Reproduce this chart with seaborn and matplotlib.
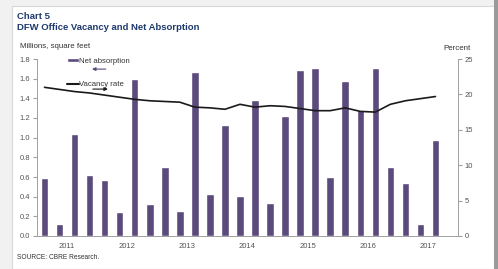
import matplotlib
matplotlib.use("Agg")
import matplotlib.pyplot as plt
from matplotlib.patches import Patch, Rectangle
from matplotlib.lines import Line2D
import pandas as pd
import seaborn as sns

quarters = [f"{y}Q{q}" for y in range(2011, 2018) for q in range(1, 5)][:27]
net_absorption = [0.59, 0.12, 1.04, 0.62, 0.57, 0.24, 1.60, 0.33, 0.70, 0.25,
                  1.67, 0.43, 1.13, 0.41, 1.38, 0.34, 1.22, 1.69, 1.71, 0.60,
                  1.58, 1.28, 1.71, 0.70, 0.54, 0.12, 0.98]
vacancy_rate = [21.0, 20.7, 20.4, 20.2, 19.9, 19.6, 19.3, 19.1, 19.0, 18.9,
                18.2, 18.1, 17.9, 18.6, 18.2, 18.4, 18.3, 18.0, 17.7, 17.7,
                18.1, 17.6, 17.5, 18.6, 19.1, 19.4, 19.7]
years = ["2011", "2012", "2013", "2014", "2015", "2016", "2017"]

df = pd.DataFrame({"quarter": quarters, "absorption": net_absorption,
                   "vacancy": vacancy_rate})
df["pos"] = range(len(df))

sns.set_style("white")
plt.rcParams["font.family"] = ["Liberation Sans", "DejaVu Sans"]

purple = "#5b4a7c"
grey_txt = "#555555"
axis_col = "#a0a0a0"
navy = "#1f3a6e"

fig = plt.figure(figsize=(4.98, 2.69), dpi=100)
fig.patch.set_facecolor("#f1f1f1")
# white panel with light border
fig.add_artist(Rectangle((12 / 498, 0), 482 / 498, 263 / 269, transform=fig.transFigure,
                         facecolor="white", edgecolor="#d8d8d8", lw=0.8, zorder=0))
fig.add_artist(Rectangle((494 / 498, 0), 4 / 498, 1, transform=fig.transFigure,
                         facecolor="#9a9a9a", edgecolor="none", zorder=0))

ax = fig.add_axes([37 / 498, 1 - 236 / 269, 421 / 498, 177 / 269])
ax.set_facecolor("none")
sns.barplot(data=df, x="pos", y="absorption", color=purple, width=0.5,
            saturation=1, ax=ax)
ax.set_xlim(-0.5, 27.5)
ax.set_ylim(0, 1.8)
ax.set_yticks([i / 5 for i in range(10)])
ax.set_yticklabels([f"{i / 5:.1f}" for i in range(10)])
ax.set_xticks([i * 4 - 0.5 for i in range(8)], minor=True)
ax.set_xticks([i * 4 + 1.5 for i in range(7)])
ax.set_xticklabels(years)
ax.tick_params(axis="x", which="major", length=0, pad=5, labelsize=5.5, labelcolor=grey_txt)
ax.tick_params(axis="x", which="minor", length=3, color=axis_col, direction="out")
ax.tick_params(axis="y", length=3, color=axis_col, labelsize=5.5, labelcolor=grey_txt,
               left=True, pad=2)
ax.set_xlabel("")
ax.set_ylabel("")
for s in ["top", "right"]:
    ax.spines[s].set_visible(False)
for s in ["left", "bottom"]:
    ax.spines[s].set_color(axis_col)
    ax.spines[s].set_linewidth(0.7)

ax2 = ax.twinx()
sns.lineplot(data=df, x="pos", y="vacancy", color="#1a1a1a", lw=1.2, ax=ax2)
ax2.set_ylim(0, 25)
ax2.set_yticks(range(0, 30, 5))
ax2.set_ylabel("")
ax2.tick_params(axis="y", length=3, color=axis_col, labelsize=5.5, labelcolor=grey_txt,
                right=True, pad=2)
for s in ["top", "left", "bottom"]:
    ax2.spines[s].set_visible(False)
ax2.spines["right"].set_color(axis_col)
ax2.spines["right"].set_linewidth(0.7)
ax2.set_xlim(-0.5, 27.5)

handles = [Patch(facecolor=purple), Line2D([0], [0], color="#1a1a1a", lw=1.5)]
leg = ax2.legend(handles, ["Net absorption", "Vacancy rate"], loc="upper left",
                 bbox_to_anchor=(0.055, 1.045), frameon=False, fontsize=5.6,
                 handlelength=1.5, handleheight=0.5, handletextpad=0.05, labelspacing=2.1)
for t in leg.get_texts():
    t.set_color("#333333")
ax2.annotate("", xy=(0.124, 0.943), xytext=(0.17, 0.943), xycoords="axes fraction",
             arrowprops=dict(arrowstyle="-|>", color=purple, lw=0.8, mutation_scale=5))
ax2.annotate("", xy=(0.175, 0.83), xytext=(0.126, 0.83), xycoords="axes fraction",
             arrowprops=dict(arrowstyle="-|>", color="#1a1a1a", lw=0.8, mutation_scale=5))

fig.text(17 / 498, 1 - 19 / 269, "Chart 5", fontsize=6.8, fontweight="bold", color=navy)
fig.text(17 / 498, 1 - 30 / 269, "DFW Office Vacancy and Net Absorption", fontsize=6.8,
         fontweight="bold", color=navy)
fig.text(20 / 498, 1 - 48 / 269, "Millions, square feet", fontsize=5.7, color="#333333")
fig.text(471 / 498, 1 - 50 / 269, "Percent", fontsize=5.7, color="#333333", ha="right")
fig.text(17 / 498, 1 - 259 / 269, "SOURCE: CBRE Research.", fontsize=4.8, color="#333333")

fig.savefig("out.png", dpi=100, facecolor=fig.get_facecolor())
